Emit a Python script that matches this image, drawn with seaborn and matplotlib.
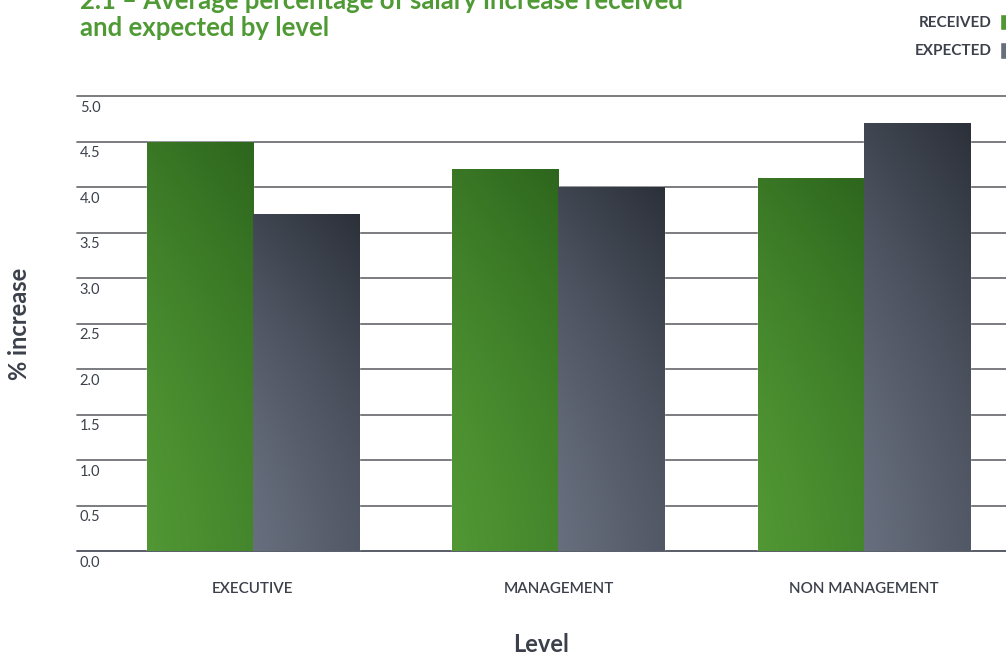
import numpy as np
import pandas as pd
import matplotlib
matplotlib.use("Agg")
import matplotlib.pyplot as plt
from matplotlib.colors import LinearSegmentedColormap
from matplotlib.patches import Patch
import seaborn as sns

# Data
levels = ["EXECUTIVE", "MANAGEMENT", "NON MANAGEMENT"]
received = [4.5, 4.2, 4.1]
expected = [3.7, 4.0, 4.7]
series_names = ["RECEIVED", "EXPECTED"]
y_ticks = [0.0, 0.5, 1.0, 1.5, 2.0, 2.5, 3.0, 3.5, 4.0, 4.5, 5.0]

df = pd.DataFrame({
    "Level": levels * 2,
    "value": received + expected,
    "Series": [series_names[0]] * 3 + [series_names[1]] * 3,
})

GREEN_LIGHT, GREEN_DARK = "#519734", "#2d661d"
GRAY_LIGHT, GRAY_DARK = "#676e7d", "#2b3039"
TEXT = "#3b404b"

sns.set_theme(style="white")
plt.rcParams["font.family"] = ["Lato", "DejaVu Sans"]

fig = plt.figure(figsize=(10.06, 6.56), dpi=100)
ax = fig.add_axes([77 / 1006, 105 / 656, 1 - 77 / 1006, 455 / 656])

sns.barplot(data=df, x="Level", y="value", hue="Series", order=levels,
            hue_order=series_names, palette=[GREEN_LIGHT, GRAY_LIGHT],
            width=0.694, gap=0, saturation=1, legend=False, ax=ax, zorder=3)

# Diagonal gradient fill on each bar: light at bottom-left, dark at top-right
cmaps = [
    LinearSegmentedColormap.from_list("g", [GREEN_LIGHT, GREEN_DARK]),
    LinearSegmentedColormap.from_list("k", [GRAY_LIGHT, GRAY_DARK]),
]
bars = list(ax.patches)
for i, bar in enumerate(bars):
    cmap = cmaps[0] if i < len(levels) else cmaps[1]
    x0, y0 = bar.get_x(), bar.get_y()
    w, h = bar.get_width(), bar.get_height()
    u = np.linspace(0, 1, 60)[None, :]
    v = np.linspace(0, 1, 200)[:, None]
    grad = 0.35 * u + 0.65 * v ** 1.6
    im = ax.imshow(grad, extent=[x0, x0 + w, y0, y0 + h], origin="lower",
                   aspect="auto", cmap=cmap, vmin=0, vmax=1, zorder=4,
                   interpolation="bilinear")
    im.set_clip_path(bar)

ax.set_xlim(-0.576, 2.465)
ax.set_ylim(0, 5)

# Horizontal rules with labels sitting just beneath them
for t in y_ticks:
    ax.axhline(t, color="#6f7276" if t > 0 else "#4a4f5a", lw=1.3,
               zorder=1, clip_on=False)
    ax.text(0.003, t - 0.05, f"{t:.1f}", transform=ax.get_yaxis_transform(),
            ha="left", va="top", fontsize=10.5, color=TEXT)

ax.set_yticks([])
for s in ax.spines.values():
    s.set_visible(False)

ax.tick_params(axis="x", length=0, pad=22, labelsize=11, labelcolor=TEXT)
for lbl in ax.get_xticklabels():
    lbl.set_fontweight("semibold")
ax.set_xlabel("Level", fontsize=17, fontweight="bold", color=TEXT, labelpad=27)
ax.set_ylabel("")
fig.text(20 / 1006, 1 - 324 / 656, "% increase", rotation=90, ha="center",
         va="center", fontsize=17, fontweight="bold", color=TEXT)

# Title (top line runs off the top edge)
fig.text(80 / 1006, 1 - 36 / 656,
         "2.1 – Average percentage of salary increase received\nand expected by level",
         ha="left", va="baseline", fontsize=18.5, fontweight="bold",
         color="#4f9a34", linespacing=1.15)

# Legend with swatches after the labels
handles = [Patch(facecolor=GREEN_LIGHT), Patch(facecolor=GRAY_LIGHT)]
fig.legend(handles, series_names, loc="upper right",
           bbox_to_anchor=(1.0155, 1.0), markerfirst=False, frameon=False,
           handlelength=0.5, handleheight=1.3, handletextpad=0.55,
           labelspacing=0.75, prop={"size": 11, "weight": "bold"},
           labelcolor=TEXT)

fig.savefig("out.png", dpi=100)
